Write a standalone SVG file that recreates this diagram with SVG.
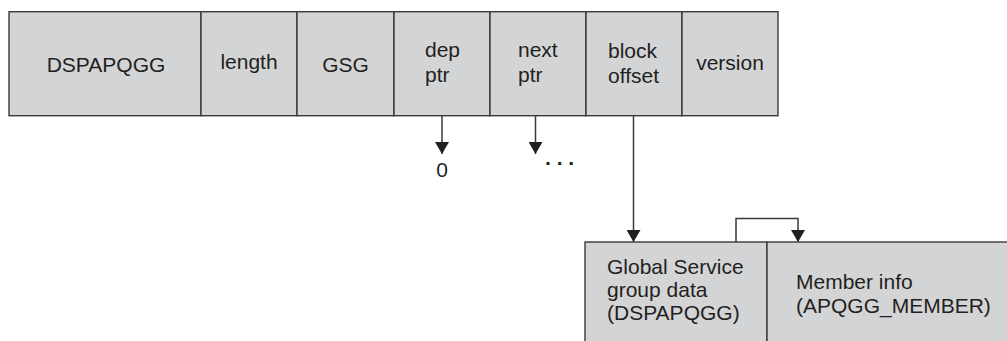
<svg xmlns="http://www.w3.org/2000/svg" width="1007" height="341" viewBox="0 0 1007 341">
<style>
.box{fill:#d3d4d6;stroke:#3a3a3a;stroke-width:1.4}
.t{font-family:"Liberation Sans",Arial,sans-serif;font-size:21px;fill:#231f20}
.c{text-anchor:middle}
.ln{fill:none;stroke:#3a3a3a;stroke-width:1.5}
</style>
<defs>
<marker id="ah" viewBox="0 0 12 14" refX="12" refY="7" markerWidth="12" markerHeight="14" markerUnits="userSpaceOnUse" orient="auto">
<path d="M0,0 L12,7 L0,14 Z" fill="#231f20"/>
</marker>
</defs>
<g id="connectors">
<line class="ln" x1="442" y1="116" x2="442" y2="154" marker-end="url(#ah)"/>
<line class="ln" x1="535.5" y1="116" x2="535.5" y2="154" marker-end="url(#ah)"/>
<line class="ln" x1="633.5" y1="116" x2="633.5" y2="242" marker-end="url(#ah)"/>
<polyline class="ln" points="736,242 736,218.5 798,218.5 798,242" marker-end="url(#ah)"/>
</g>
<g id="DSPAPQGG">
<rect class="box" x="9" y="11.7" width="192" height="104"/>
<text class="t c" x="106" y="72">DSPAPQGG</text>
</g>
<g id="length">
<rect class="box" x="201" y="11.7" width="96" height="104"/>
<text class="t c" x="249" y="69">length</text>
</g>
<g id="GSG">
<rect class="box" x="297" y="11.7" width="97" height="104"/>
<text class="t c" x="345.5" y="72">GSG</text>
</g>
<g id="depptr">
<rect class="box" x="394" y="11.7" width="96" height="104"/>
<text class="t" x="425" y="57">dep</text>
<text class="t" x="425" y="81.5">ptr</text>
</g>
<g id="nextptr">
<rect class="box" x="490" y="11.7" width="96" height="104"/>
<text class="t" x="518" y="57">next</text>
<text class="t" x="518" y="81.5">ptr</text>
</g>
<g id="blockoffset">
<rect class="box" x="586" y="11.7" width="96" height="104"/>
<text class="t" x="608" y="58">block</text>
<text class="t" x="608" y="82.5">offset</text>
</g>
<g id="version">
<rect class="box" x="682" y="11.7" width="96" height="104"/>
<text class="t c" x="730" y="70">version</text>
</g>
<g id="zero">
<text class="t c" x="442" y="177">0</text>
</g>
<g id="dots">
<text class="t" x="545" y="165" style="font-weight:bold">. . .</text>
</g>
<g id="globaldata">
<rect class="box" x="585" y="242" width="182" height="110"/>
<text class="t" x="607" y="274">Global Service</text>
<text class="t" x="607" y="297">group data</text>
<text class="t" x="607" y="320">(DSPAPQGG)</text>
</g>
<g id="memberinfo">
<rect class="box" x="767" y="242" width="250" height="110"/>
<text class="t" x="796" y="289">Member info</text>
<text class="t" x="796" y="313">(APQGG_MEMBER)</text>
</g>
</svg>
